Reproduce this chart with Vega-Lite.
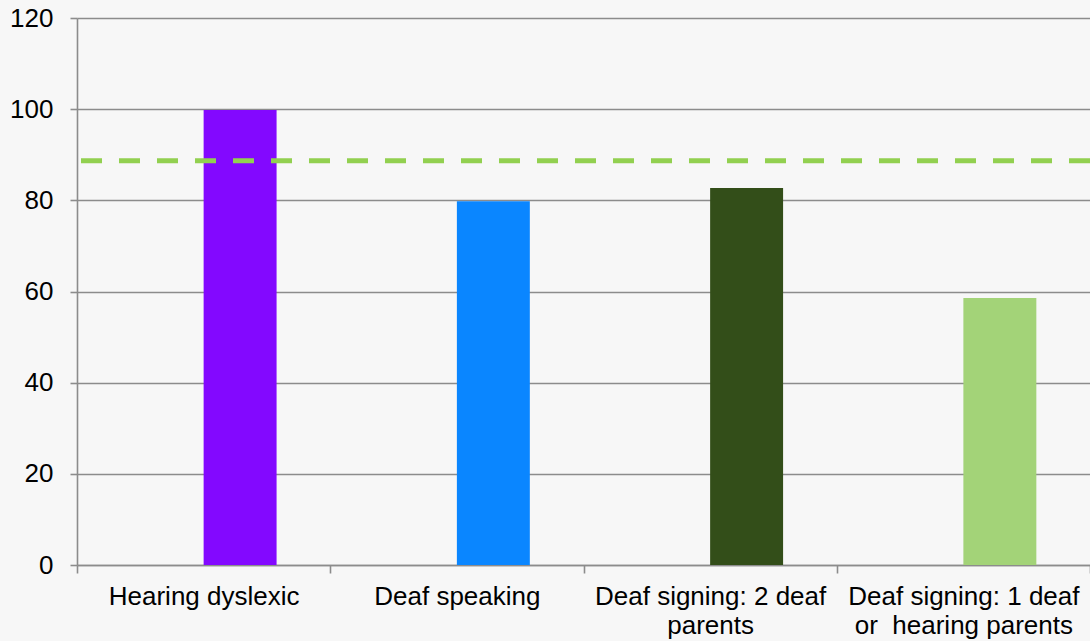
{
  "$schema": "https://vega.github.io/schema/vega-lite/v6.json",
  "autosize": "none",
  "width": 1013,
  "height": 547,
  "padding": {"left": 77, "top": 18, "right": 0, "bottom": 76},
  "background": "#f7f7f7",
  "config": {
    "view": {"stroke": null},
    "font": "Liberation Sans",
    "axis": {
      "labelFont": "Liberation Sans",
      "labelFontSize": 26,
      "labelColor": "#000000",
      "domainColor": "#8c8c8c",
      "domainWidth": 1.6,
      "tickColor": "#8c8c8c",
      "tickWidth": 1.6,
      "gridColor": "#8c8c8c",
      "gridWidth": 1.6,
      "title": null
    }
  },
  "layer": [
    {
      "data": {
        "values": [
          {"group": "Hearing dyslexic", "series": "score", "value": 99.8},
          {"group": "Deaf speaking", "series": "score", "value": 79.8},
          {"group": "Deaf signing: 2 deaf parents", "series": "score", "value": 82.7},
          {"group": "Deaf signing: 1 deaf or  hearing parents", "series": "score", "value": 58.6}
        ]
      },
      "mark": {"type": "bar"},
      "encoding": {
        "x": {
          "field": "group",
          "type": "nominal",
          "sort": null,
          "scale": {"paddingInner": 0, "paddingOuter": 0},
          "axis": {
            "tickBand": "extent",
            "tickSize": 8,
            "labelAngle": 0,
            "labelPadding": 10,
            "labelLimit": 400,
            "labelLineHeight": 29,
            "grid": false,
            "labelExpr": "datum.value == 'Deaf signing: 2 deaf parents' ? ['Deaf signing: 2 deaf', 'parents'] : datum.value == 'Deaf signing: 1 deaf or  hearing parents' ? ['Deaf signing: 1 deaf', 'or\u00a0 hearing parents'] : datum.value"
          }
        },
        "xOffset": {
          "field": "series",
          "type": "nominal",
          "scale": {"domain": ["empty", "score"], "paddingInner": 0, "paddingOuter": 0.7356}
        },
        "y": {
          "field": "value",
          "type": "quantitative",
          "scale": {"domain": [0, 120], "nice": false},
          "axis": {
            "values": [0, 20, 40, 60, 80, 100, 120],
            "tickSize": 7,
            "labelPadding": 17,
            "grid": true
          }
        },
        "color": {
          "field": "group",
          "type": "nominal",
          "sort": null,
          "scale": {
            "domain": ["Hearing dyslexic", "Deaf speaking", "Deaf signing: 2 deaf parents", "Deaf signing: 1 deaf or  hearing parents"],
            "range": ["#8308ff", "#0a86ff", "#334e19", "#a3d378"]
          },
          "legend": null
        }
      }
    },
    {
      "data": {"values": [{"reference": 88.7}]},
      "mark": {"type": "rule", "color": "#92d050", "strokeWidth": 5, "strokeDash": [21, 17]},
      "encoding": {
        "y": {"field": "reference", "type": "quantitative"}
      }
    }
  ]
}
